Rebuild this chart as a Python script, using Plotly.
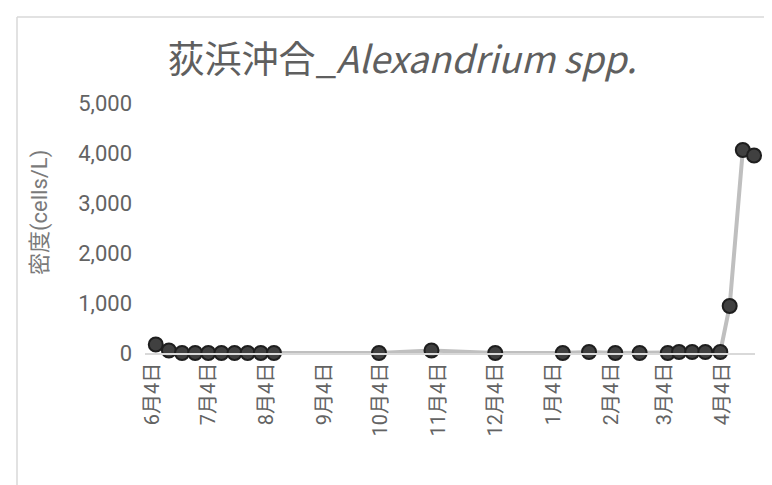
import plotly.graph_objects as go

# Data
dates = [
    "2022-06-06", "2022-06-13", "2022-06-20", "2022-06-27", "2022-07-04",
    "2022-07-11", "2022-07-18", "2022-07-25", "2022-08-01", "2022-08-08",
    "2022-10-03", "2022-10-31", "2022-12-04", "2023-01-09", "2023-01-23",
    "2023-02-06", "2023-02-19", "2023-03-06", "2023-03-12", "2023-03-19",
    "2023-03-26", "2023-04-03", "2023-04-08", "2023-04-15", "2023-04-21",
]
density = [
    170, 50, 0, 0, 0,
    0, 0, 0, 0, 0,
    0, 50, 0, 0, 20,
    0, 0, 0, 20, 20,
    20, 20, 940, 4060, 3950,
]

tick_dates = [
    "2022-06-04", "2022-07-04", "2022-08-04", "2022-09-04", "2022-10-04",
    "2022-11-04", "2022-12-04", "2023-01-04", "2023-02-04", "2023-03-04",
    "2023-04-04",
]
tick_labels = [
    "6月4日", "7月4日", "8月4日", "9月4日", "10月4日",
    "11月4日", "12月4日", "1月4日", "2月4日", "3月4日", "4月4日",
]
y_ticks = [0, 1000, 2000, 3000, 4000, 5000]

FONT = "Roboto, Noto Sans CJK JP, sans-serif"
CJK = "Noto Sans CJK JP, sans-serif"
GREY = "#636363"

fig = go.Figure()
fig.add_trace(go.Scatter(
    x=dates, y=density,
    mode="lines+markers",
    line=dict(color="#BFBFBF", width=4),
    marker=dict(size=14, color="#404040", line=dict(color="#1E1E1E", width=2)),
    cliponaxis=False,
    showlegend=False,
))

# page has an 8px body margin; geometry below is in figure pixels
OFF = 8
W, H = 772 - OFF, 485 - OFF
L, R, T, B = 145 - OFF, 755 - OFF, 103 - OFF, 353 - OFF
pw, ph = R - L, B - T

fig.update_layout(
    width=W, height=H,
    margin=dict(l=L, r=W - R, t=T, b=H - B, autoexpand=False),
    paper_bgcolor="white", plot_bgcolor="white",
    font=dict(family=FONT, color=GREY),
    title=dict(
        text="荻浜沖合_<i>Alexandrium spp.</i>",
        x=(402 - OFF) / W, xanchor="center", xref="container",
        y=1 - (60 - OFF) / H, yanchor="middle", yref="container",
        font=dict(size=37, color="#5f5f5f", family=CJK),
    ),
    xaxis=dict(
        type="date",
        range=["2022-05-31 06:00", "2023-04-21 12:00"],
        tickvals=tick_dates, ticktext=tick_labels,
        tickangle=-90,
        tickfont=dict(size=20, color=GREY, family=FONT),
        showgrid=False, zeroline=False,
        showline=True, linecolor="#D9D9D9", linewidth=1.5,
        ticks="", ticklabelstandoff=0,
    ),
    yaxis=dict(
        range=[0, 5000],
        tickvals=y_ticks, tickformat=",",
        tickfont=dict(size=22, color=GREY, family=FONT),
        showgrid=False, zeroline=False, showline=False,
        ticks="", ticklabelstandoff=12,
    ),
    shapes=[
        dict(type="line", xref="paper", yref="paper",
             x0=(17 - OFF - L) / pw, x1=(800 - L) / pw,
             y0=(B - (17 - OFF)) / ph, y1=(B - (17 - OFF)) / ph,
             line=dict(color="#D9D9D9", width=1.5)),
        dict(type="line", xref="paper", yref="paper",
             x0=(17 - OFF - L) / pw, x1=(17 - OFF - L) / pw,
             y0=(B - (17 - OFF)) / ph, y1=(B - 520) / ph,
             line=dict(color="#D9D9D9", width=1.5)),
    ],
    annotations=[
        dict(text="密度(cells/L)", textangle=-90,
             xref="paper", yref="paper",
             x=(40 - OFF - L) / pw, y=(B - (213 - OFF)) / ph,
             xanchor="center", yanchor="middle", showarrow=False,
             font=dict(size=22, color="#7a7a7a", family=FONT)),
    ],
)

fig.write_html("out.html")
